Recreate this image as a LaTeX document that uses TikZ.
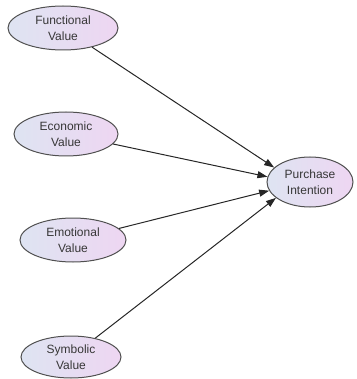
\documentclass[tikz,border=0pt]{standalone}
\usepackage{fontspec}
\setmainfont{Liberation Sans}
\usetikzlibrary{shapes.geometric,arrows.meta}
\definecolor{lblue}{RGB}{222,228,242}
\definecolor{lpink}{RGB}{238,214,242}
\definecolor{edge}{RGB}{80,80,80}
\definecolor{txt}{RGB}{55,55,55}
\tikzset{
  var/.style={ellipse, draw=edge, line width=1pt, left color=lblue, right color=lpink,
    inner sep=0pt, align=center, text=txt,
    font=\fontsize{12pt}{16pt}\selectfont},
  link/.style={draw=black!85, line width=1pt, -{Triangle[length=10pt,width=7pt]}}
}
\begin{document}
\begin{tikzpicture}[x=1pt,y=-1pt]
\useasboundingbox (0,0) rectangle (356,379);
\node[var, minimum width=110pt, minimum height=44pt] (F) at (63,28) {Functional\\Value};
\node[var, minimum width=104pt, minimum height=44pt] (Ec) at (66,134) {Economic\\Value};
\node[var, minimum width=106pt, minimum height=44pt] (Em) at (73,240) {Emotional\\Value};
\node[var, minimum width=100pt, minimum height=42pt] (S) at (71,357) {Symbolic\\Value};
\node[var, minimum width=86pt, minimum height=50pt] (PI) at (310,182) {Purchase\\Intention};
\draw[link] (F) -- (PI.158);
\draw[link] (Ec) -- (PI.173);
\draw[link] (Em) -- (PI.192);
\draw[link] (S) -- (PI.205);
\end{tikzpicture}
\end{document}
